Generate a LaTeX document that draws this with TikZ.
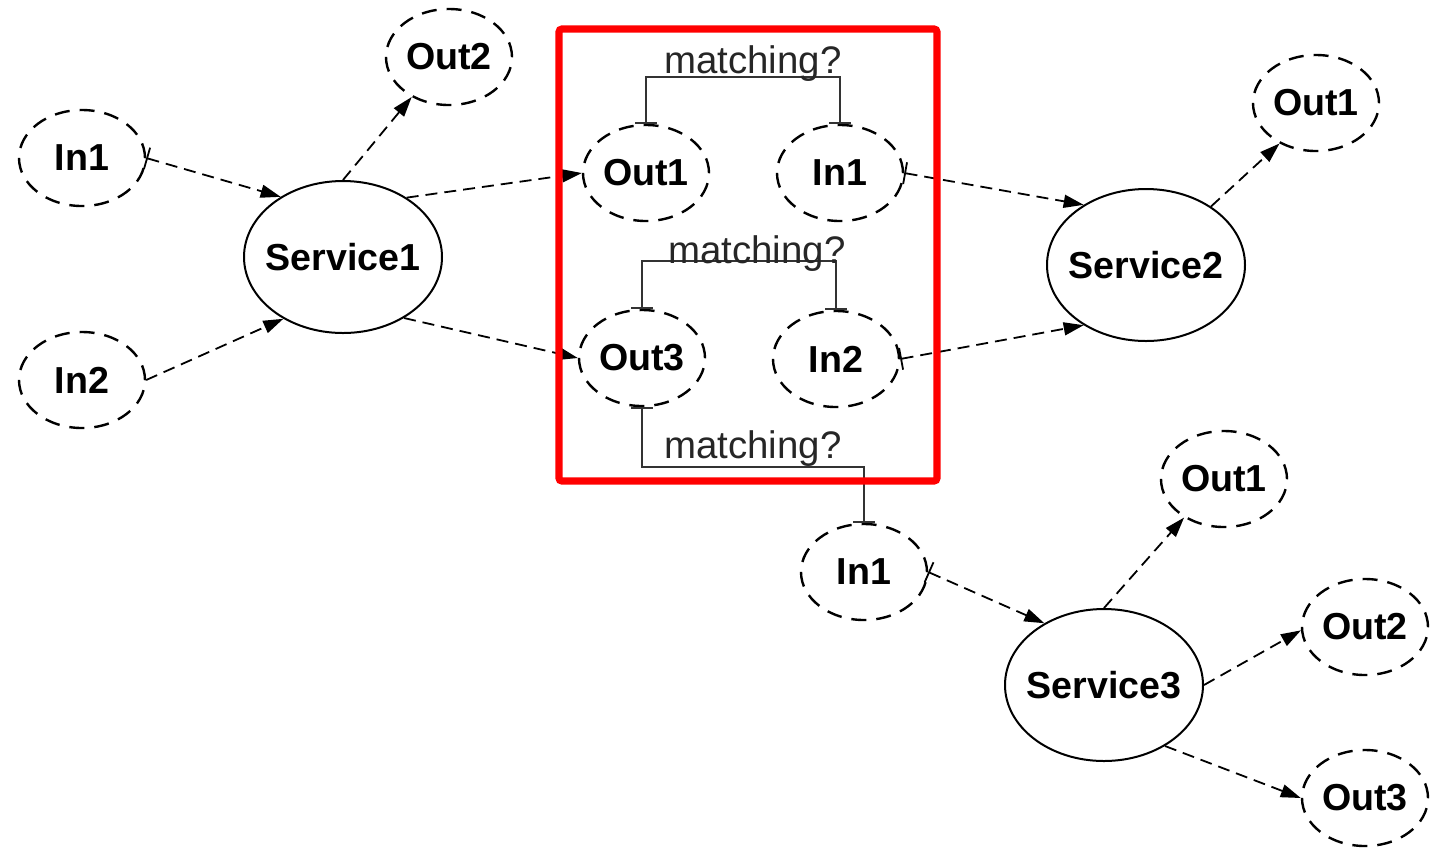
\documentclass[tikz,border=0pt]{standalone}
\usepackage{fontspec}
\setmainfont{Liberation Sans}
\usetikzlibrary{arrows.meta,shapes.geometric}

% zero-width label so that the ellipse keeps its own size
\newcommand{\tag}[1]{\makebox[0pt]{#1}}

\tikzset{
  port/.style={ellipse, draw, line width=1.2pt, dash pattern=on 7.5pt off 5pt,
    minimum width=63pt, minimum height=48pt, inner sep=0pt,
    font=\fontsize{18.8}{22}\selectfont\bfseries},
  service/.style={ellipse, draw, line width=1pt,
    minimum width=99pt, minimum height=76pt, inner sep=0pt,
    font=\fontsize{18.8}{22}\selectfont\bfseries},
  flow/.style={line width=0.9pt, dash pattern=on 6pt off 3.5pt,
    -{Triangle[length=10pt,width=6.5pt]}},
  barflow/.style={flow, {Bar[width=11pt,line width=0.9pt]}-{Triangle[length=10pt,width=6.5pt]}},
  bracket/.style={line width=0.8pt, black!80,
    {Bar[width=11pt,line width=0.8pt]}-{Bar[width=11pt,line width=0.8pt]}},
  asklabel/.style={font=\fontsize{19.2}{22}\selectfont, text=black!85, inner sep=0pt},
  frame/.style={draw=red, line width=3.6pt, rounded corners=1.5pt}
}

\begin{document}
\begin{tikzpicture}[x=0.5pt,y=-0.5pt]
  \useasboundingbox (0,0) rectangle (1441,848);

  % Service1 and its ports
  \node[service] (s1) at (343,257) {\tag{Service1}};
  \node[port] (s1in1) at (82,158) {\tag{In1}};
  \node[port] (s1in2) at (82,380) {\tag{In2}};
  \node[port] (s1out2) at (449,57) {\tag{Out2}};

  % ports compared inside the frame
  \node[port] (s1out1) at (646,173) {\tag{Out1}};
  \node[port] (s2in1) at (840,173) {\tag{In1}};
  \node[port] (s1out3) at (642,358) {\tag{Out3}};
  \node[port] (s2in2) at (836,359) {\tag{In2}};

  % Service2 and its output
  \node[service] (s2) at (1146,265) {\tag{Service2}};
  \node[port] (s2out1) at (1316,103) {\tag{Out1}};

  % Service3 and its ports
  \node[service] (s3) at (1104,685) {\tag{Service3}};
  \node[port] (s3in1) at (864,572) {\tag{In1}};
  \node[port] (s3out1) at (1224,479) {\tag{Out1}};
  \node[port] (s3out2) at (1365,627) {\tag{Out2}};
  \node[port] (s3out3) at (1365,798) {\tag{Out3}};

  % data flows
  \draw[barflow] (s1in1.east) -- (s1.136);
  \draw[flow] (s1in2.east) -- (s1.226);
  \draw[flow] (s1.north) -- (s1out2.227);
  \draw[flow] (s1.43) -- (s1out1.west);
  \draw[flow] (s1.315) -- (s1out3.west);
  \draw[barflow] (s2in1.east) -- (s2.136);
  \draw[barflow] (s2in2.east) -- (s2.224);
  \draw[flow] (s2.42) -- (s2out1.228);
  \draw[barflow] (s3in1.east) -- (s3.134);
  \draw[flow] (s3.north) -- (s3out1.224);
  \draw[flow] (s3.east) -- (s3out2.183);
  \draw[flow] (s3.315) -- (s3out3.west);

  % matching checks
  \draw[bracket] (s1out1.north) -- ++(0,-47) -| (s2in1.north);
  \draw[bracket] (s1out3.north) -- ++(0,-48) -| (s2in2.north);
  \draw[bracket] (s1out3.south) -- ++(0,60) -| (s3in1.north);
  \node[asklabel] (ask1) at (753,64) {matching?};
  \node[asklabel] (ask2) at (757,254) {matching?};
  \node[asklabel] (ask3) at (753,449) {matching?};

  % highlight frame
  \draw[frame] (559,29) rectangle (937,481);
\end{tikzpicture}
\end{document}
